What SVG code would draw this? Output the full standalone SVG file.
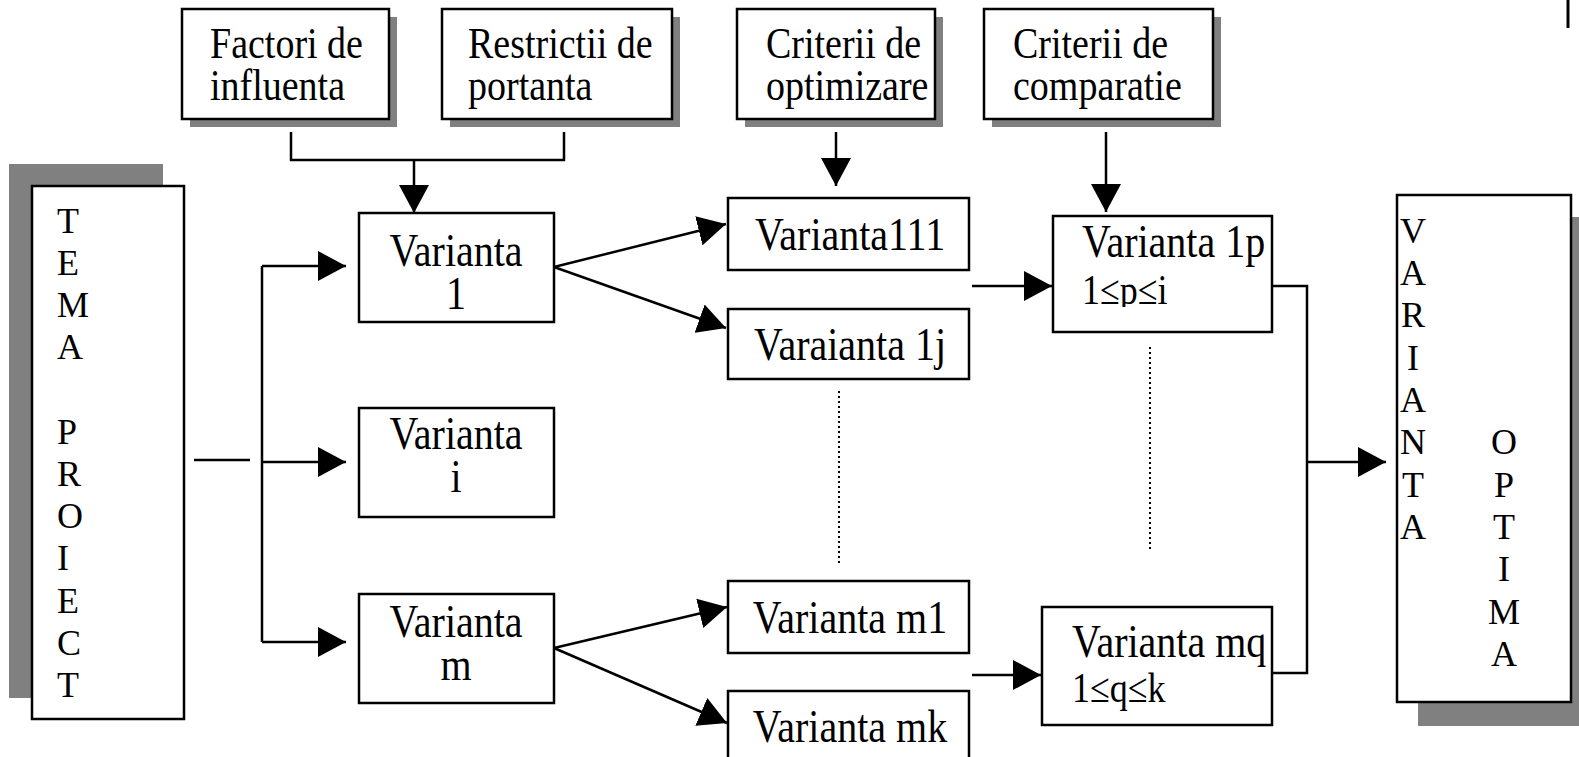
<svg xmlns="http://www.w3.org/2000/svg" width="1579" height="757" viewBox="0 0 1579 757">
<style>
.box{fill:#fff;stroke:#000;stroke-width:2.5}
.sh{fill:#808080}
.t{font-family:"Liberation Serif","Times New Roman",serif;font-size:38px;fill:#000}
.b{font-size:40px}
.s{font-size:36px}
.col{font-family:"Liberation Serif","Times New Roman",serif;font-size:36px;fill:#000}
.c{text-anchor:middle}
.ln{fill:none;stroke:#000;stroke-width:2.5}
.ar{fill:none;stroke:#000;stroke-width:2.5;marker-end:url(#ah)}
.dot{fill:none;stroke:#000;stroke-width:2;stroke-dasharray:2 3}
</style>
<defs>
<marker id="ah" markerUnits="userSpaceOnUse" markerWidth="28" markerHeight="30" refX="28" refY="15" orient="auto" viewBox="0 0 28 30">
<path d="M0,0 L28,15 L0,30 Z" fill="#000"/>
</marker>
<clipPath id="clip1p"><rect x="1053" y="216" width="219" height="91"/></clipPath>
</defs>
<rect width="1579" height="757" fill="#fff"/>
<line x1="1568" y1="0" x2="1568" y2="28" stroke="#000" stroke-width="3"/>

<g id="tema">
<rect class="sh" x="9" y="164" width="154" height="534"/>
<rect class="box" x="32" y="186" width="152" height="533"/>
<text class="col" x="57" y="233">T</text>
<text class="col" x="57" y="275">E</text>
<text class="col" x="57" y="317">M</text>
<text class="col" x="57" y="359">A</text>
<text class="col" x="57" y="444">P</text>
<text class="col" x="57" y="486">R</text>
<text class="col" x="57" y="528">O</text>
<text class="col" x="57" y="570">I</text>
<text class="col" x="57" y="613">E</text>
<text class="col" x="57" y="655">C</text>
<text class="col" x="57" y="697">T</text>
</g>

<g id="factori">
<rect class="sh" x="190" y="17" width="207" height="110"/>
<rect class="box" x="182" y="9" width="207" height="110"/>
<text class="t" transform="matrix(1 0 0 1.15 210 58)">Factori de</text>
<text class="t" transform="matrix(1 0 0 1.15 210 100)">influenta</text>
</g>
<g id="restrictii">
<rect class="sh" x="450" y="17" width="230" height="110"/>
<rect class="box" x="442" y="9" width="230" height="110"/>
<text class="t" transform="matrix(1 0 0 1.15 468 58)">Restrictii de</text>
<text class="t" transform="matrix(1 0 0 1.15 468 100)">portanta</text>
</g>
<g id="crit-opt">
<rect class="sh" x="745" y="17" width="198" height="110"/>
<rect class="box" x="737" y="9" width="198" height="110"/>
<text class="t" transform="matrix(1 0 0 1.15 766 58)">Criterii de</text>
<text class="t" transform="matrix(1 0 0 1.15 766 100)">optimizare</text>
</g>
<g id="crit-comp">
<rect class="sh" x="992" y="17" width="229" height="110"/>
<rect class="box" x="984" y="9" width="229" height="110"/>
<text class="t" transform="matrix(1 0 0 1.15 1013 58)">Criterii de</text>
<text class="t" transform="matrix(1 0 0 1.15 1013 100)">comparatie</text>
</g>

<g id="v1">
<rect class="box" x="359" y="213" width="195" height="109"/>
<text class="t b c" transform="matrix(1 0 0 1.15 456 266)">Varianta</text>
<text class="t b c" transform="matrix(1 0 0 1.15 456 309)">1</text>
</g>
<g id="vi">
<rect class="box" x="359" y="408" width="195" height="109"/>
<text class="t b c" transform="matrix(1 0 0 1.15 456 449)">Varianta</text>
<text class="t b c" transform="matrix(1 0 0 1.15 456 492)">i</text>
</g>
<g id="vm">
<rect class="box" x="359" y="594" width="195" height="109"/>
<text class="t b c" transform="matrix(1 0 0 1.15 456 637)">Varianta</text>
<text class="t b c" transform="matrix(1 0 0 1.15 456 680)">m</text>
</g>

<g id="v111">
<rect class="box" x="728" y="198" width="241" height="72"/>
<text class="t b c" transform="matrix(1 0 0 1.15 850 250)">Varianta111</text>
</g>
<g id="v1j">
<rect class="box" x="728" y="309" width="241" height="70"/>
<text class="t b c" transform="matrix(1 0 0 1.15 850 360)">Varaianta 1j</text>
</g>
<g id="vm1">
<rect class="box" x="728" y="581" width="241" height="72"/>
<text class="t b c" transform="matrix(1 0 0 1.15 850 633)">Varianta m1</text>
</g>
<g id="vmk">
<rect class="box" x="728" y="691" width="241" height="70"/>
<text class="t b c" transform="matrix(1 0 0 1.15 850 742)">Varianta mk</text>
</g>

<g id="v1p">
<rect class="box" x="1053" y="216" width="219" height="116"/>
<text class="t b" transform="matrix(1 0 0 1.15 1082 257)">Varianta 1p</text>
<g clip-path="url(#clip1p)"><text class="t s" transform="matrix(1 0 0 1.15 1082 304)">1≤p≤i</text></g>
</g>
<g id="vmq">
<rect class="box" x="1042" y="607" width="230" height="118"/>
<text class="t b" transform="matrix(1 0 0 1.15 1072 657)">Varianta mq</text>
<text class="t s" transform="matrix(1 0 0 1.15 1072 702)">1≤q≤k</text>
</g>

<g id="optima">
<rect class="sh" x="1418" y="217" width="170" height="509"/>
<rect class="box" x="1397" y="195" width="174" height="507"/>
<text class="col c" x="1413" y="243">V</text>
<text class="col c" x="1413" y="285">A</text>
<text class="col c" x="1413" y="327">R</text>
<text class="col c" x="1413" y="370">I</text>
<text class="col c" x="1413" y="412">A</text>
<text class="col c" x="1413" y="454">N</text>
<text class="col c" x="1413" y="497">T</text>
<text class="col c" x="1413" y="539">A</text>
<text class="col c" x="1504" y="454">O</text>
<text class="col c" x="1504" y="497">P</text>
<text class="col c" x="1504" y="539">T</text>
<text class="col c" x="1504" y="581">I</text>
<text class="col c" x="1504" y="624">M</text>
<text class="col c" x="1504" y="666">A</text>
</g>

<g id="connectors">
<polyline class="ln" points="291,132 291,160 564,160 564,132"/>
<line class="ar" x1="414" y1="160" x2="414" y2="213"/>
<line class="ar" x1="836" y1="132" x2="836" y2="186"/>
<line class="ar" x1="1106" y1="132" x2="1106" y2="212"/>
<line class="ln" x1="194" y1="460" x2="250" y2="460"/>
<line class="ln" x1="262" y1="266" x2="262" y2="642"/>
<line class="ar" x1="262" y1="266" x2="346" y2="266"/>
<line class="ar" x1="262" y1="462" x2="346" y2="462"/>
<line class="ar" x1="262" y1="642" x2="346" y2="642"/>
<line class="ar" x1="554" y1="267" x2="726" y2="224"/>
<line class="ar" x1="554" y1="267" x2="726" y2="328"/>
<line class="ar" x1="554" y1="648" x2="727" y2="607"/>
<line class="ar" x1="554" y1="648" x2="727" y2="723"/>
<line class="ar" x1="972" y1="286" x2="1052" y2="286"/>
<line class="ar" x1="972" y1="675" x2="1041" y2="675"/>
<line class="dot" x1="839" y1="391" x2="839" y2="566"/>
<line class="dot" x1="1150" y1="347" x2="1150" y2="552"/>
<polyline class="ln" points="1272,286 1307,286 1307,673 1272,673"/>
<line class="ar" x1="1307" y1="462" x2="1386" y2="462"/>
</g>
</svg>
